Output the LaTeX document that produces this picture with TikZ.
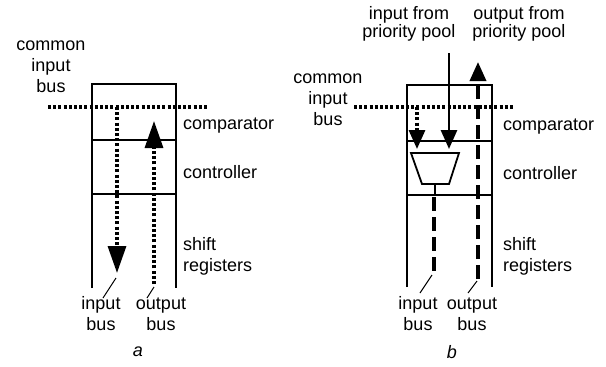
\documentclass[tikz,border=0pt]{standalone}
\usepackage{fontspec}
\setmainfont{Liberation Sans}
\usetikzlibrary{arrows.meta}
\begin{document}
\begin{tikzpicture}[x=1pt,y=-1pt,
  lbl/.style={font=\fontsize{18}{21}\selectfont, inner sep=0pt, align=center},
  toplbl/.style={font=\fontsize{18}{18.5}\selectfont, inner sep=0pt, align=center},
  rlbl/.style={font=\fontsize{18}{21}\selectfont, inner sep=0pt, anchor=west, align=left},
  boxline/.style={line width=1.8pt},
  dotln/.style={line width=3.2pt, dash pattern=on 3pt off 2.2pt},
  dashln/.style={line width=3.4pt, dash pattern=on 14pt off 6pt},
  solidln/.style={line width=2.8pt},
  leader/.style={line width=1pt},
  headA/.style={-{Triangle[width=18pt,length=27pt]}},
  headB/.style={-{Triangle[width=16pt,length=19pt]}},
]
\useasboundingbox (0,0) rectangle (606,367);

% ---------- panel a ----------
\coordinate (aBL) at (92,288);
\coordinate (aTL) at (92,84);
\coordinate (aTR) at (176,84);
\coordinate (aBR) at (176,288);
\draw[boxline] (aBL) -- (aTL) -- (aTR) -- (aBR);
\coordinate (aC1) at (92,140);  \coordinate (aC2) at (176,140);
\coordinate (aD1) at (92,194);  \coordinate (aD2) at (176,194);
\draw[boxline] (aC1) -- (aC2);
\draw[boxline] (aD1) -- (aD2);

\coordinate (aBusL) at (48,107);
\coordinate (aBusR) at (208,107);
\draw[dotln] (aBusL) -- (aBusR);

\coordinate (aInS) at (117,107);
\coordinate (aInE) at (117,273);
\draw[dotln, headA] (aInS) -- (aInE);
\coordinate (aOutS) at (154,284);
\coordinate (aOutE) at (154,121);
\draw[dotln, headA] (aOutS) -- (aOutE);

\node[lbl] (aCommon) at (51,67) {common\\input\\bus};
\node[rlbl] (aComp) at (183,126) {comparator};
\node[rlbl] (aCtrl) at (183,172) {controller};
\node[rlbl] (aShift) at (183,256) {shift\\registers};
\node[lbl] (aIn) at (101,314) {input\\bus};
\node[lbl] (aOut) at (161,314) {output\\bus};
\node[lbl, font=\fontsize{18}{21}\selectfont\itshape] (aName) at (138,352) {a};

\coordinate (aInL1) at (116,278);
\coordinate (aInL2) at (103,298);
\draw[leader] (aInL1) -- (aInL2);
\coordinate (aOutL1) at (154,287);
\coordinate (aOutL2) at (147,298);
\draw[leader] (aOutL1) -- (aOutL2);

% ---------- panel b ----------
\coordinate (bBL) at (407,287);
\coordinate (bTL) at (407,85);
\coordinate (bTR) at (492,85);
\coordinate (bBR) at (492,287);
\draw[boxline] (bBL) -- (bTL) -- (bTR) -- (bBR);
\coordinate (bC1) at (407,141);  \coordinate (bC2) at (492,141);
\coordinate (bD1) at (407,195);  \coordinate (bD2) at (492,195);
\draw[boxline] (bC1) -- (bC2);
\draw[boxline] (bD1) -- (bD2);

\coordinate (bBusL) at (354,107);
\coordinate (bBusR) at (514,107);
\draw[dotln] (bBusL) -- (bBusR);

% selector (trapezoid)
\coordinate (mTL) at (411,153);
\coordinate (mTR) at (459,153);
\coordinate (mBR) at (449,184);
\coordinate (mBL) at (422,184);
\draw[boxline, fill=white] (mTL) -- (mTR) -- (mBR) -- (mBL) -- cycle;
\coordinate (mOut) at (435,184);
\coordinate (mOutE) at (435,195);
\draw[boxline] (mOut) -- (mOutE);

\coordinate (bPoolS) at (449,53);
\coordinate (bPoolE) at (449,149);
\draw[solidln, headB] (bPoolS) -- (bPoolE);
\coordinate (bDropS) at (417,107);
\coordinate (bDropE) at (417,149);
\draw[dotln, headB] (bDropS) -- (bDropE);

\coordinate (bInS) at (434,197);
\coordinate (bInE) at (434,272);
\draw[dashln] (bInS) -- (bInE);
\coordinate (bOutS) at (478,279);
\coordinate (bOutE) at (478,62);
\draw[dashln, headB] (bOutS) -- (bOutE);

\node[toplbl] (bPoolIn) at (409,24) {input from\\priority pool};
\node[toplbl] (bPoolOut) at (519,24) {output from\\priority pool};
\node[lbl] (bCommon) at (328,100) {common\\input\\bus};
\node[rlbl] (bComp) at (503,127) {comparator};
\node[rlbl] (bCtrl) at (503,173) {controller};
\node[rlbl] (bShift) at (503,256) {shift\\registers};
\node[lbl] (bIn) at (418,314) {input\\bus};
\node[lbl] (bOut) at (472,314) {output\\bus};
\node[lbl, font=\fontsize{18}{21}\selectfont\itshape] (bName) at (452,352) {b};

\coordinate (bInL1) at (432,275);
\coordinate (bInL2) at (420,293);
\draw[leader] (bInL1) -- (bInL2);
\coordinate (bOutL1) at (477,281);
\coordinate (bOutL2) at (468,293);
\draw[leader] (bOutL1) -- (bOutL2);
\end{tikzpicture}
\end{document}
